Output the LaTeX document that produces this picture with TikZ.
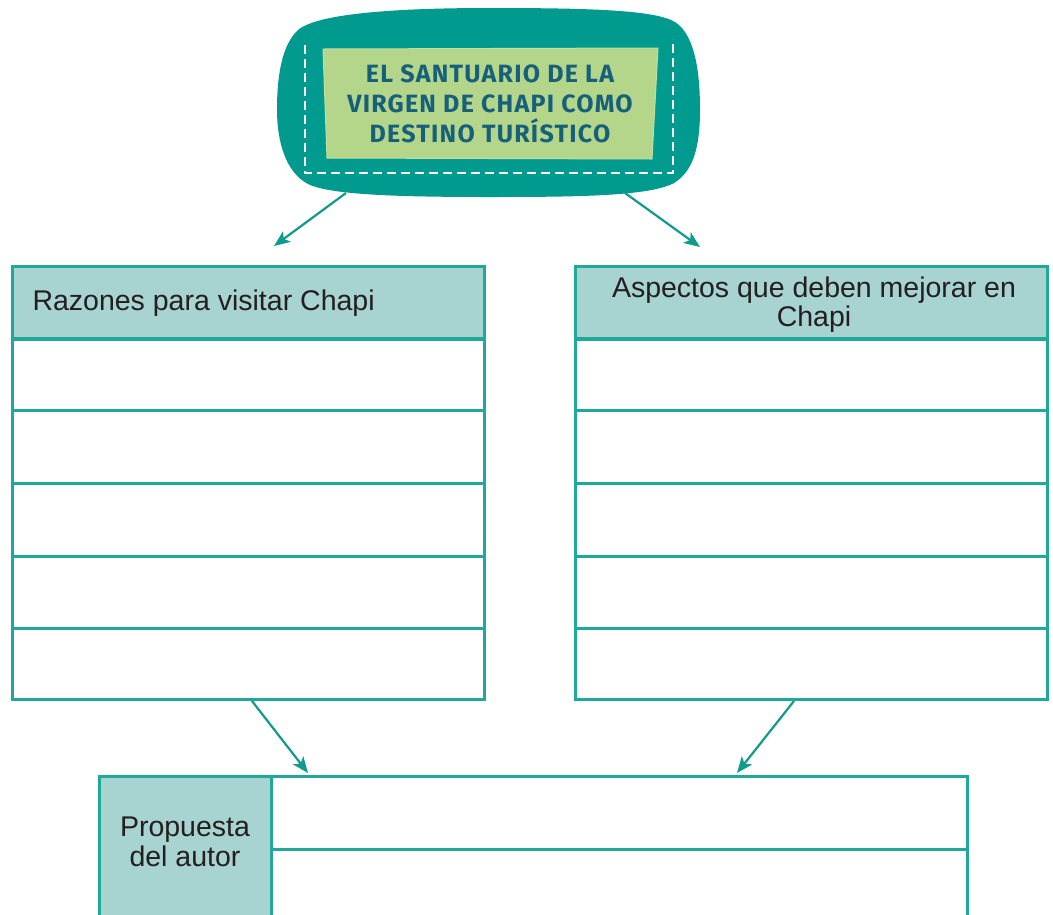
\documentclass[tikz,border=0pt]{standalone}
\usepackage{fontspec}
\setmainfont{Liberation Sans}
\newfontfamily\titlefont[LetterSpace=5]{Fira Sans}
\usetikzlibrary{arrows.meta}
\definecolor{blobteal}{HTML}{009A8F}
\definecolor{linecol}{HTML}{20A99B}
\definecolor{headfill}{HTML}{A7D3D0}
\definecolor{titlegreen}{HTML}{B3D68B}
\definecolor{titletext}{HTML}{17607A}
\definecolor{arrowcol}{HTML}{119A8E}
\definecolor{textcol}{HTML}{231F20}
\tikzset{
  tableline/.style={draw=linecol, line width=3pt},
  headbox/.style={tableline, fill=headfill},
  cellbox/.style={tableline, fill=white},
  conn/.style={draw=arrowcol, line width=2.2pt, -{Stealth[length=16pt,width=13pt,inset=4pt]}},
  celltext/.style={text=textcol, font=\fontsize{28.5}{31}\selectfont, align=center},
}
\begin{document}
\begin{tikzpicture}[x=1pt,y=-1pt]
\useasboundingbox (0,0) rectangle (1053,914);
\clip (0,0) rectangle (1053,914);
\fill[white] (0,0) rectangle (1053,914);

% title blob
\fill[blobteal] (490,8) .. controls (590,8) and (655,10) .. (675,22)
  .. controls (697,36) and (700,80) .. (700,110)
  .. controls (700,150) and (692,172) .. (674,183)
  .. controls (650,196) and (580,197) .. (490,197)
  .. controls (400,197) and (330,195) .. (308,184)
  .. controls (285,172) and (277,140) .. (277,110)
  .. controls (277,75) and (282,45) .. (298,30)
  .. controls (318,13) and (400,8) .. (490,8) -- cycle;
\draw[white, line width=2.6pt, dash pattern=on 9pt off 5pt] (305,45) -- (305,173) -- (673,173) -- (673,39);
\fill[titlegreen, draw=titlegreen!80!white, line width=1pt] (323,49) -- (658,48) -- (652,159) -- (327,158) -- cycle;
\node[font=\titlefont\bfseries\fontsize{25}{30}\selectfont, text=titletext, align=center] (title) at (490,104)
  {EL SANTUARIO DE LA\\VIRGEN DE CHAPI COMO\\DESTINO TURÍSTICO};
\coordinate (blobL) at (346,193);
\coordinate (blobR) at (625,193);

% left table
\node[headbox, minimum width=472pt, minimum height=72pt, anchor=north west] (lh) at (11,265) {};
\node[celltext, anchor=west] (lhtext) at (29,303) {Razones para visitar Chapi};
\foreach \i/\a/\b in {1/338/409,2/409/482,3/482/555,4/555/627,5/627/698}{
  \node[cellbox, minimum width=472pt, minimum height={\b-\a}, anchor=north west] (l\i) at (11,\a) {};
}
% right table
\node[headbox, minimum width=472pt, minimum height=72pt, anchor=north west] (rh) at (574,265) {};
\node[celltext] (rhtext) at (814,305) {Aspectos que deben mejorar en\\[-2pt]Chapi};
\foreach \i/\a/\b in {1/338/409,2/409/482,3/482/555,4/555/627,5/627/698}{
  \node[cellbox, minimum width=472pt, minimum height={\b-\a}, anchor=north west] (r\i) at (574,\a) {};
}

% bottom table
\node[headbox, minimum width=172pt, minimum height=170pt, anchor=north west] (ph) at (98,775) {};
\node[cellbox, minimum width=696pt, minimum height=73pt, anchor=north west] (p1) at (270,775) {};
\node[cellbox, minimum width=696pt, minimum height=97pt, anchor=north west] (p2) at (270,848) {};
\node[celltext] (phtext) at (185,842) {Propuesta\\[-1pt]del autor};

% connectors
\coordinate (lhTop) at (274,246);
\coordinate (rhTop) at (700,247);
\draw[conn] (blobL) -- (lhTop);
\draw[conn] (blobR) -- (rhTop);
\draw[conn] (l5.south west) ++(241,0) coordinate (l5s) (l5s) -- (308,773) coordinate (p1a);
\draw[conn] (r5.south west) ++(220,0) coordinate (r5s) (r5s) -- (737,773) coordinate (p1b);
\end{tikzpicture}
\end{document}
